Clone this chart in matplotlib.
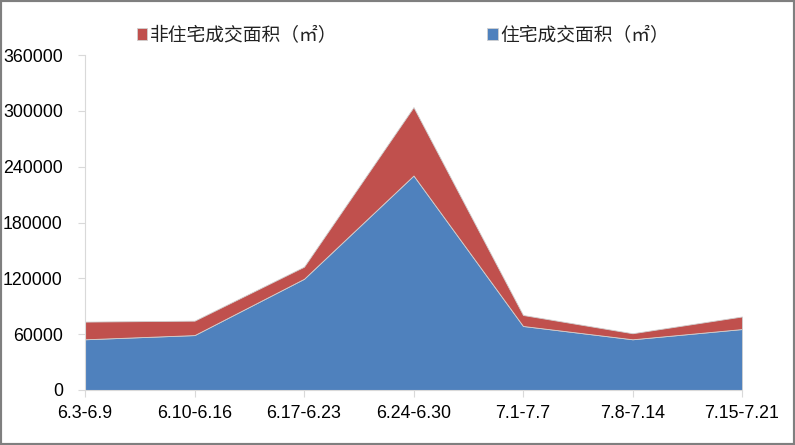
import numpy as np
import matplotlib.pyplot as plt
from matplotlib.patches import Rectangle

plt.rcParams['font.family'] = ['Noto Sans CJK SC', 'DejaVu Sans']

weeks = ["6.3-6.9", "6.10-6.16", "6.17-6.23", "6.24-6.30", "7.1-7.7", "7.8-7.14", "7.15-7.21"]
residential = [54500, 59000, 119500, 230500, 68800, 54500, 65500]
non_residential = [19000, 15500, 13000, 73500, 11800, 6500, 13500]

blue = "#4F81BD"
red = "#C0504D"

fig = plt.figure(figsize=(7.95, 4.45), dpi=100)
ax = fig.add_axes([85/795, 1-390/445, (742-85)/795, (390-55)/445])

x = np.arange(len(weeks))
ax.stackplot(x, residential, non_residential, colors=[blue, red],
             labels=["住宅成交面积（㎡）", "非住宅成交面积（㎡）"], linewidth=0.6, edgecolor="#d0d0d0")

ax.set_xlim(0, len(weeks) - 1)
ax.set_ylim(0, 360000)
ax.set_yticks(np.arange(0, 360001, 60000))
ax.set_xticks(x)
ax.set_xticklabels(weeks, family=['Liberation Sans Narrow', 'Liberation Sans', 'DejaVu Sans'])
for lab in ax.get_yticklabels():
    lab.set_family(['Liberation Sans Narrow', 'Liberation Sans', 'DejaVu Sans'])
ax.tick_params(axis='both', labelsize=12.8, color="#d9d9d9", length=5, width=0.8, labelcolor="#000000")
ax.tick_params(axis='x', pad=6)
ax.tick_params(axis='y', pad=11)

for s in ["top", "right"]:
    ax.spines[s].set_visible(False)
ax.spines["left"].set_color("#d9d9d9")
ax.spines["bottom"].set_color("#d9d9d9")

handles, labels = ax.get_legend_handles_labels()
leg = fig.legend(handles[::-1], labels[::-1], loc="center", bbox_to_anchor=(403/795, 1-35/445),
                 ncol=2, frameon=False, fontsize=13.5, handlelength=0.55, handleheight=0.55,
                 handletextpad=0.15, columnspacing=8.0)
for t in leg.get_texts():
    t.set_color("#222222")

fig.patches.append(Rectangle((0, 0), 1, 1, transform=fig.transFigure, fill=False,
                             edgecolor="#7f7f7f", linewidth=3))

fig.savefig("out.png", dpi=100)
